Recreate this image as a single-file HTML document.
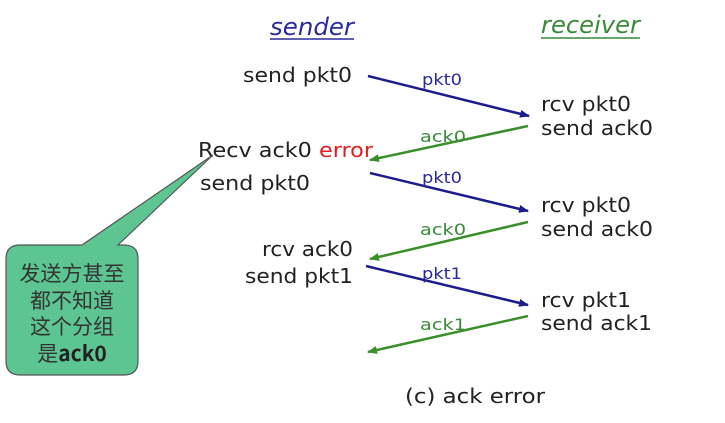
<!DOCTYPE html>
<html><head><meta charset="utf-8"><style>
html,body{margin:0;padding:0;background:#fff;width:725px;height:423px;overflow:hidden}
svg text{font-family:"DejaVu Sans","Noto Sans CJK SC",sans-serif}
</style></head><body>
<svg width="725" height="423" viewBox="0 0 725 423" xmlns="http://www.w3.org/2000/svg">
<defs>
<marker id="ab" markerWidth="10" markerHeight="8" refX="9" refY="4" orient="auto" markerUnits="userSpaceOnUse"><path d="M0,0 L10,4 L0,8 z" fill="#1c1c8c"/></marker>
<marker id="ag" markerWidth="10" markerHeight="8" refX="9" refY="4" orient="auto" markerUnits="userSpaceOnUse"><path d="M0,0 L10,4 L0,8 z" fill="#3a8f2a"/></marker>
</defs>
<text x="270" y="35" font-size="24" font-style="italic" fill="#2a2a9a" textLength="84" lengthAdjust="spacingAndGlyphs">sender</text>
<line x1="270" y1="39" x2="354" y2="39" stroke="#2a2a9a" stroke-width="1.5"/>
<text x="541" y="33" font-size="24" font-style="italic" fill="#3a8a3a" textLength="99" lengthAdjust="spacingAndGlyphs">receiver</text>
<line x1="541" y1="38" x2="640" y2="38" stroke="#3a8a3a" stroke-width="1.5"/>

<g font-size="20" fill="#222">
<text x="243" y="82" textLength="109" lengthAdjust="spacingAndGlyphs">send pkt0</text>
<text x="198" y="157" textLength="175" lengthAdjust="spacingAndGlyphs">Recv ack0 <tspan fill="#e02020">error</tspan></text>
<text x="200" y="190" textLength="110" lengthAdjust="spacingAndGlyphs">send pkt0</text>
<text x="262" y="256" textLength="91" lengthAdjust="spacingAndGlyphs">rcv ack0</text>
<text x="245" y="283" textLength="108" lengthAdjust="spacingAndGlyphs">send pkt1</text>
<text x="541" y="111" textLength="90" lengthAdjust="spacingAndGlyphs">rcv pkt0</text>
<text x="541" y="135" textLength="112" lengthAdjust="spacingAndGlyphs">send ack0</text>
<text x="541" y="212" textLength="90" lengthAdjust="spacingAndGlyphs">rcv pkt0</text>
<text x="541" y="236" textLength="112" lengthAdjust="spacingAndGlyphs">send ack0</text>
<text x="541" y="307" textLength="90" lengthAdjust="spacingAndGlyphs">rcv pkt1</text>
<text x="541" y="330" textLength="111" lengthAdjust="spacingAndGlyphs">send ack1</text>
<text x="405" y="403" textLength="140" lengthAdjust="spacingAndGlyphs">(c) ack error</text>
</g>

<g stroke-width="2.5" fill="none">
<line x1="368" y1="76" x2="529" y2="116" stroke="#1c1c8c" marker-end="url(#ab)"/>
<line x1="528" y1="126" x2="370" y2="160" stroke="#3a8f2a" marker-end="url(#ag)"/>
<line x1="370" y1="173" x2="528" y2="211" stroke="#1c1c8c" marker-end="url(#ab)"/>
<line x1="528" y1="222" x2="370" y2="259" stroke="#3a8f2a" marker-end="url(#ag)"/>
<line x1="366" y1="266" x2="528" y2="305" stroke="#1c1c8c" marker-end="url(#ab)"/>
<line x1="528" y1="316" x2="368" y2="352" stroke="#3a8f2a" marker-end="url(#ag)"/>
</g>
<g font-size="16">
<text x="422" y="85" fill="#2a2a9a" textLength="40" lengthAdjust="spacingAndGlyphs">pkt0</text>
<text x="420" y="142" fill="#3a8a3a" textLength="46" lengthAdjust="spacingAndGlyphs">ack0</text>
<text x="422" y="183" fill="#2a2a9a" textLength="40" lengthAdjust="spacingAndGlyphs">pkt0</text>
<text x="420" y="235" fill="#3a8a3a" textLength="46" lengthAdjust="spacingAndGlyphs">ack0</text>
<text x="422" y="279" fill="#2a2a9a" textLength="40" lengthAdjust="spacingAndGlyphs">pkt1</text>
<text x="420" y="330" fill="#3a8a3a" textLength="46" lengthAdjust="spacingAndGlyphs">ack1</text>
</g>

<path d="M20,245 L82,245 L213,155 L118,245 L124,245 Q138,245 138,259 L138,361 Q138,375 124,375 L20,375 Q6,375 6,361 L6,259 Q6,245 20,245 Z" fill="#5cc592" stroke="#555" stroke-width="1.2"/>
<g font-size="21" fill="#333" text-anchor="middle" font-family="'Noto Sans CJK SC',sans-serif">
<text x="72" y="281" style="font-family:'Noto Sans CJK SC',sans-serif">发送方甚至</text>
<text x="72" y="308" style="font-family:'Noto Sans CJK SC',sans-serif">都不知道</text>
<text x="72" y="334" style="font-family:'Noto Sans CJK SC',sans-serif">这个分组</text>
<text x="72" y="361" style="font-family:'Noto Sans CJK SC',sans-serif">是<tspan font-weight="bold" fill="#222">ack0</tspan></text>
</g>
</svg>
</body></html>
